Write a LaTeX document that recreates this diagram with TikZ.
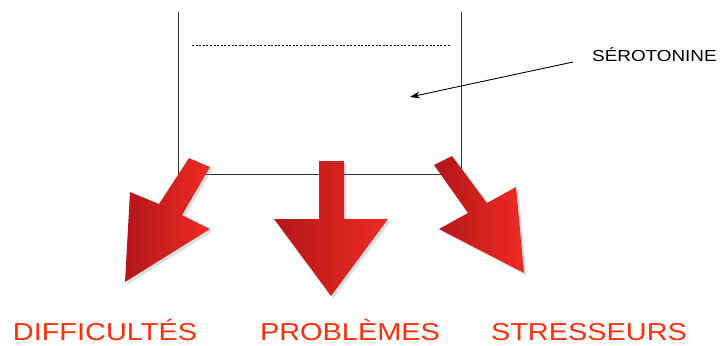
\documentclass[tikz,border=0pt]{standalone}
\usepackage{fontspec}
\setmainfont{Liberation Sans}
\usepackage{tikz}
\usetikzlibrary{
  arrows.meta,
  positioning,
  shadows
}
\usepackage{xcolor}
\definecolor{darkred}{HTML}{B2171A}
\definecolor{brightred}{HTML}{F02B24}
\definecolor{labelred}{HTML}{FF2E0A}
\definecolor{wallgray}{HTML}{333333}
\newcommand{\wide}[1]{\scalebox{1.18}[1]{#1}}
\tikzset{
  wall/.style={
    draw=wallgray,
    line width=0.9pt
  },
  level/.style={
    draw=black,
    line width=0.6pt,
    dash pattern=on 2pt off 1.6pt
  },
  bigarrow/.style={
    left color=darkred,
    right color=brightred,
    drop shadow={opacity=0.25, shadow xshift=2.5pt, shadow yshift=-2.5pt}
  },
  outlabel/.style={
    text=labelred,
    font=\fontsize{24.5}{28}\selectfont,
    anchor=base,
    inner sep=0pt
  },
  sidelabel/.style={
    text=black,
    font=\fontsize{16}{19}\selectfont,
    anchor=base west,
    inner sep=0pt
  },
  pointer/.style={
    -{Stealth[length=10pt,width=7pt]},
    line width=0.9pt,
    draw=black
  }
}
\begin{document}
\begin{tikzpicture}[x=1pt,y=-1pt]
\useasboundingbox (0,0) rectangle (727,345);

% vessel
\draw[wall] (178,12) -- (178,174) -- (461,174) -- (461,12);
\draw[level] (192,45) -- (450,45);

% label and pointer
\node[sidelabel] (sero) at (592,61) {\wide{SÉROTONINE}};
\coordinate (serostart) at (573,62);
\coordinate (serotarget) at (410,97);
\draw[pointer] (serostart) -- (serotarget);

% big arrows
\path[bigarrow] (189,158) -- (210,167) -- (182,215) -- (210,229)
  -- (125,282) -- (130,192) -- (159,204) -- cycle;
\path[bigarrow] (319,161) -- (344,161) -- (344,219) -- (388,219)
  -- (331,296) -- (274,219) -- (319,219) -- cycle;
\path[bigarrow] (434,165) -- (452,156) -- (487,203) -- (516,187)
  -- (524,273) -- (439,229) -- (468,213) -- cycle;

% outcomes
\node[outlabel] (diff) at (105,340) {\wide{DIFFICULTÉS}};
\node[outlabel] (prob) at (350,340) {\wide{PROBLÈMES}};
\node[outlabel] (stress) at (589,340) {\wide{STRESSEURS}};
\end{tikzpicture}
\end{document}
